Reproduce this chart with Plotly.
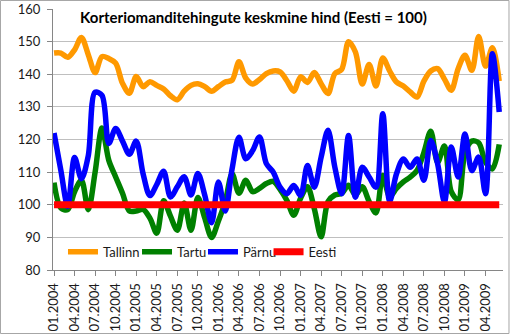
import plotly.graph_objects as go

# Monthly categories 01.2004 ... 06.2009
months = [f"{m:02d}.{y}" for y in range(2004, 2010) for m in range(1, 13)][:66]
tick_labels = months[::3]

tallinn = [146.5, 146.5, 145.2, 147.5, 151.3, 146.0, 140.5, 145.4, 144.8, 143.4,
           137.2, 134.2, 139.3, 136.2, 137.7, 136.6, 135.5, 133.4, 132.2, 134.8,
           136.6, 137.1, 136.2, 134.8, 136.2, 137.6, 138.2, 143.8, 138.8, 137.0,
           138.4, 140.2, 141.0, 140.7, 138.0, 134.8, 139.2, 137.5, 140.5, 137.1,
           134.1, 140.2, 141.5, 150.0, 146.8, 137.0, 143.0, 136.4, 145.0, 141.0,
           137.6, 136.4, 134.6, 133.0, 137.9, 141.0, 141.7, 138.5, 135.1, 141.7,
           145.8, 141.2, 151.6, 142.5, 148.1, 137.9]

tartu = [106.8, 99.0, 98.5, 104.0, 107.5, 98.5, 110.0, 123.5, 113.6, 108.5,
         103.5, 98.1, 98.1, 98.6, 95.9, 91.3, 101.2, 96.5, 92.2, 100.5,
         92.2, 102.2, 96.0, 90.0, 95.0, 101.0, 109.5, 103.5, 107.5, 104.0,
         105.0, 106.5, 107.2, 104.7, 101.3, 96.8, 102.0, 105.5, 98.8, 90.2,
         101.0, 103.0, 103.5, 106.0, 103.0, 105.5, 101.0, 97.5, 109.0, 102.5,
         105.0, 107.0, 108.5, 110.5, 116.0, 122.5, 113.0, 118.0, 104.0, 101.5,
         116.0, 119.5, 119.0, 113.0, 111.0, 118.5]

parnu = [122.0, 110.5, 99.5, 114.5, 108.0, 115.0, 134.5, 133.5, 118.8, 123.4,
         119.5, 115.5, 119.5, 109.5, 102.8, 106.2, 110.3, 102.4, 105.5, 108.6,
         103.0, 109.6, 103.0, 94.5, 107.0, 98.1, 111.0, 120.7, 114.1, 116.6,
         120.8, 112.6, 110.0, 105.4, 103.4, 105.9, 102.9, 112.0, 105.4, 114.6,
         122.8, 111.5, 103.4, 121.2, 102.3, 111.5, 108.5, 105.4, 127.9, 101.0,
         109.5, 114.0, 111.5, 114.0, 107.5, 119.7, 112.6, 100.8, 117.7, 108.5,
         121.7, 110.5, 114.6, 103.4, 146.3, 128.4]

eesti = [100, 100, 100, 100, 100, 100, 100, 100, 100, 100, 100,
         100, 100, 100, 100, 100, 100, 100, 100, 100, 100, 100,
         100, 100, 100, 100, 100, 100, 100, 100, 100, 100, 100,
         100, 100, 100, 100, 100, 100, 100, 100, 100, 100, 100,
         100, 100, 100, 100, 100, 100, 100, 100, 100, 100, 100,
         100, 100, 100, 100, 100, 100, 100, 100, 100, 100, 100]

series = [
    ("Tallinn", tallinn, "#FF9900", 5.5),
    ("Tartu", tartu, "#008000", 5.5),
    ("Pärnu", parnu, "#0000FF", 5.5),
    ("Eesti", eesti, "#FF0000", 7),
]

# one legend box per series, spaced along the bottom of the plot area
legend_ids = ["legend", "legend2", "legend3", "legend4"]
legend_x = [0.0222, 0.1867, 0.3333, 0.4790]

FONT = "Lato, 'Open Sans', sans-serif"

fig = go.Figure()
for (name, values, color, width), lid in zip(series, legend_ids):
    fig.add_trace(go.Scatter(
        x=months, y=values, name=name, mode="lines", legend=lid,
        line=dict(color=color, width=width, shape="spline", smoothing=0.9),
    ))

legend_style = dict(
    orientation="h", y=0.07, xanchor="left", yanchor="middle",
    bgcolor="rgba(0,0,0,0)", font=dict(family=FONT, size=13, color="#1a1a1a"),
    itemwidth=30,
)
legends = {lid: dict(legend_style, x=lx) for lid, lx in zip(legend_ids, legend_x)}

fig.update_layout(
    width=510, height=334,
    margin=dict(l=53, r=7, t=9, b=64, autoexpand=False),
    paper_bgcolor="white", plot_bgcolor="white",
    font=dict(family=FONT, size=13, color="#1a1a1a"),
    title=dict(
        text="<b>Korteriomanditehingute keskmine hind (Eesti = 100)</b>",
        x=0.497, xref="container", xanchor="center",
        y=0.946, yref="container", yanchor="middle",
        font=dict(family=FONT, size=15, color="black"),
    ),
    showlegend=True,
    **legends,
    xaxis=dict(
        type="category", range=[-0.15, 65.55],
        tickmode="array", tickvals=tick_labels, ticktext=tick_labels,
        tickangle=-90, ticks="outside", ticklen=5, tickcolor="#868686",
        ticklabelstandoff=2,
        showline=True, linecolor="#868686", linewidth=1,
        showgrid=False, zeroline=False,
        tickfont=dict(family=FONT, size=13, color="#1a1a1a"),
    ),
    yaxis=dict(
        range=[80, 160], dtick=10, tick0=80,
        ticks="outside", ticklen=5, tickcolor="#868686",
        ticklabelstandoff=4,
        showline=True, linecolor="#868686", linewidth=1,
        showgrid=True, gridcolor="#BFBFBF", gridwidth=1, zeroline=False,
        tickfont=dict(family=FONT, size=13, color="#1a1a1a"),
    ),
    shapes=[dict(
        type="rect", xref="paper", yref="paper",
        x0=-0.1167, x1=1.0133, y0=-0.2433, y1=1.0326,
        line=dict(color="#A6A6A6", width=1), fillcolor="rgba(0,0,0,0)",
        layer="below",
    )],
)

fig.write_html("out.html")
